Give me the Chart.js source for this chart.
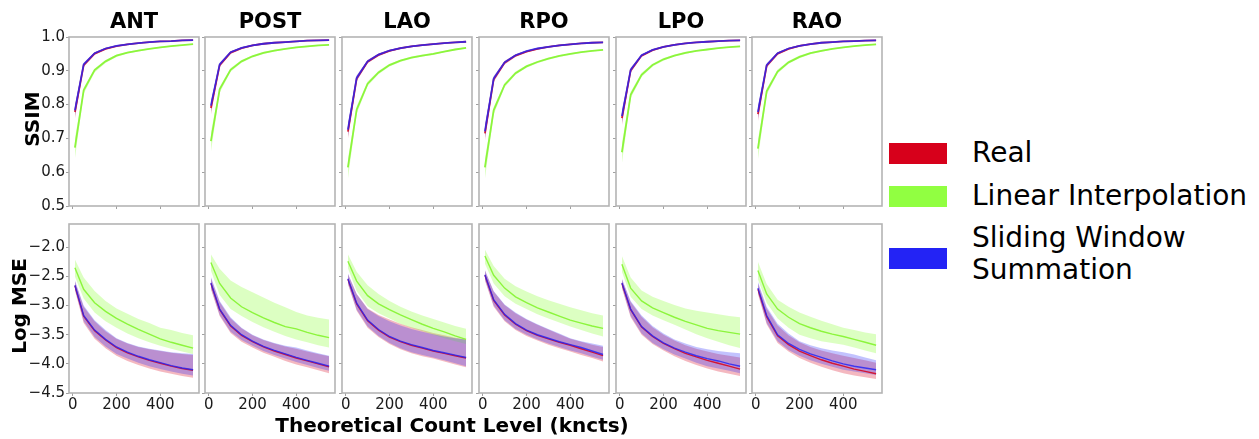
<!DOCTYPE html>
<html>
<head>
<meta charset="utf-8">
<script src="https://cdn.jsdelivr.net/npm/chart.js@4"></script>
<style>
  html, body { margin: 0; padding: 0; background: #fff; }
  #fig { position: relative; width: 1259px; height: 439px; overflow: hidden; font-family: 'DejaVu Sans', sans-serif; color: #000; }
  canvas { position: absolute; }
  .title { position: absolute; height: 28px; line-height: 28px; text-align: center; font-weight: bold; font-size: 21px; }
  .ylab { position: absolute; font-weight: bold; font-size: 20px; line-height: 20px; white-space: nowrap; transform: translate(-50%, -50%) rotate(-90deg); }
  .xlab { position: absolute; font-weight: bold; font-size: 20px; line-height: 24px; white-space: nowrap; transform: translateX(-50%); }
  .lpatch { position: absolute; left: 889px; width: 58px; height: 21px; }
  .ltext { position: absolute; left: 972px; font-size: 28px; line-height: 28px; white-space: nowrap; }
</style>
</head>
<body>
<div id="fig"></div>
<script>
// ---------------- data ----------------
const views = ['ANT', 'POST', 'LAO', 'RPO', 'LPO', 'RAO'];
const methods = ['Real', 'Linear Interpolation', 'Sliding Window\nSummation'];
const xValues = [10, 50, 100, 150, 200, 250, 300, 350, 400, 450, 500, 550];
const xTicks = [0, 200, 400];
const ssimTicks = [0.5, 0.6, 0.7, 0.8, 0.9, 1.0];
const mseTicks = [-4.5, -4.0, -3.5, -3.0, -2.5, -2.0];

// SSIM — rows follow `views`
const ssimRealMean = [
  [0.778, 0.917, 0.951, 0.965, 0.973, 0.978, 0.982, 0.985, 0.987, 0.988, 0.990, 0.991],
  [0.790, 0.917, 0.954, 0.967, 0.975, 0.980, 0.983, 0.985, 0.987, 0.989, 0.990, 0.991],
  [0.720, 0.877, 0.927, 0.947, 0.959, 0.967, 0.972, 0.976, 0.979, 0.982, 0.984, 0.986],
  [0.715, 0.875, 0.924, 0.945, 0.957, 0.965, 0.971, 0.975, 0.978, 0.981, 0.983, 0.984],
  [0.760, 0.901, 0.945, 0.961, 0.971, 0.977, 0.981, 0.984, 0.986, 0.988, 0.989, 0.990],
  [0.772, 0.915, 0.951, 0.965, 0.974, 0.979, 0.983, 0.985, 0.987, 0.988, 0.989, 0.990]
];
const ssimRealLo = [
  [0.758, 0.911, 0.947, 0.962, 0.971, 0.976, 0.981, 0.984, 0.986, 0.987, 0.989, 0.990],
  [0.770, 0.911, 0.950, 0.964, 0.973, 0.978, 0.982, 0.984, 0.986, 0.988, 0.989, 0.990],
  [0.698, 0.869, 0.922, 0.943, 0.956, 0.964, 0.970, 0.974, 0.977, 0.981, 0.983, 0.985],
  [0.693, 0.867, 0.919, 0.941, 0.954, 0.962, 0.969, 0.973, 0.976, 0.980, 0.982, 0.983],
  [0.738, 0.894, 0.941, 0.958, 0.969, 0.975, 0.980, 0.983, 0.985, 0.987, 0.988, 0.989],
  [0.750, 0.909, 0.947, 0.962, 0.972, 0.977, 0.982, 0.984, 0.986, 0.987, 0.988, 0.989]
];
const ssimRealHi = [
  [0.796, 0.923, 0.955, 0.968, 0.975, 0.980, 0.983, 0.986, 0.988, 0.989, 0.991, 0.992],
  [0.808, 0.923, 0.958, 0.970, 0.977, 0.982, 0.984, 0.986, 0.988, 0.990, 0.991, 0.992],
  [0.740, 0.885, 0.932, 0.951, 0.962, 0.969, 0.974, 0.978, 0.981, 0.983, 0.985, 0.987],
  [0.736, 0.883, 0.929, 0.949, 0.960, 0.968, 0.973, 0.977, 0.980, 0.982, 0.984, 0.985],
  [0.780, 0.908, 0.949, 0.964, 0.973, 0.979, 0.982, 0.985, 0.987, 0.989, 0.990, 0.991],
  [0.792, 0.921, 0.955, 0.968, 0.976, 0.981, 0.984, 0.986, 0.988, 0.989, 0.990, 0.991]
];
const ssimLinMean = [
  [0.673, 0.842, 0.902, 0.928, 0.945, 0.954, 0.960, 0.965, 0.969, 0.973, 0.976, 0.979],
  [0.692, 0.845, 0.903, 0.928, 0.943, 0.953, 0.960, 0.965, 0.969, 0.972, 0.975, 0.977],
  [0.614, 0.785, 0.862, 0.895, 0.917, 0.930, 0.939, 0.945, 0.950, 0.957, 0.963, 0.968],
  [0.614, 0.783, 0.858, 0.893, 0.913, 0.926, 0.936, 0.944, 0.950, 0.955, 0.959, 0.962],
  [0.659, 0.829, 0.888, 0.917, 0.934, 0.945, 0.953, 0.959, 0.963, 0.967, 0.970, 0.972],
  [0.670, 0.839, 0.898, 0.925, 0.941, 0.952, 0.959, 0.965, 0.969, 0.973, 0.976, 0.978]
];
const ssimLinLo = [
  [0.640, 0.832, 0.895, 0.923, 0.941, 0.951, 0.957, 0.963, 0.967, 0.971, 0.974, 0.977],
  [0.660, 0.835, 0.897, 0.924, 0.939, 0.950, 0.957, 0.962, 0.967, 0.970, 0.973, 0.975],
  [0.580, 0.773, 0.855, 0.890, 0.913, 0.926, 0.936, 0.942, 0.947, 0.955, 0.961, 0.966],
  [0.580, 0.771, 0.851, 0.888, 0.909, 0.922, 0.933, 0.941, 0.947, 0.953, 0.957, 0.960],
  [0.626, 0.819, 0.882, 0.913, 0.930, 0.942, 0.950, 0.957, 0.961, 0.965, 0.968, 0.970],
  [0.637, 0.829, 0.892, 0.921, 0.937, 0.949, 0.956, 0.963, 0.967, 0.971, 0.974, 0.976]
];
const ssimLinHi = [
  [0.700, 0.850, 0.907, 0.932, 0.948, 0.956, 0.962, 0.967, 0.971, 0.975, 0.978, 0.980],
  [0.718, 0.853, 0.908, 0.932, 0.946, 0.956, 0.962, 0.967, 0.971, 0.974, 0.976, 0.978],
  [0.640, 0.795, 0.868, 0.900, 0.921, 0.933, 0.942, 0.948, 0.953, 0.959, 0.965, 0.970],
  [0.640, 0.793, 0.864, 0.898, 0.917, 0.929, 0.939, 0.946, 0.952, 0.957, 0.961, 0.964],
  [0.686, 0.838, 0.894, 0.921, 0.938, 0.948, 0.956, 0.961, 0.965, 0.969, 0.972, 0.974],
  [0.696, 0.848, 0.904, 0.929, 0.945, 0.955, 0.962, 0.967, 0.971, 0.975, 0.978, 0.980]
];
const ssimSwsMean = [
  [0.783, 0.919, 0.952, 0.966, 0.974, 0.978, 0.982, 0.985, 0.987, 0.988, 0.990, 0.991],
  [0.797, 0.919, 0.955, 0.968, 0.975, 0.980, 0.983, 0.985, 0.987, 0.989, 0.990, 0.991],
  [0.726, 0.879, 0.928, 0.948, 0.960, 0.967, 0.972, 0.976, 0.979, 0.982, 0.984, 0.986],
  [0.721, 0.877, 0.925, 0.946, 0.958, 0.966, 0.971, 0.975, 0.978, 0.981, 0.983, 0.984],
  [0.766, 0.903, 0.946, 0.962, 0.971, 0.977, 0.981, 0.984, 0.986, 0.988, 0.989, 0.990],
  [0.778, 0.917, 0.952, 0.966, 0.974, 0.979, 0.983, 0.985, 0.987, 0.988, 0.989, 0.990]
];
const ssimSwsLo = [
  [0.765, 0.913, 0.948, 0.963, 0.972, 0.976, 0.981, 0.984, 0.986, 0.987, 0.989, 0.990],
  [0.778, 0.913, 0.951, 0.965, 0.973, 0.978, 0.982, 0.984, 0.986, 0.988, 0.989, 0.990],
  [0.705, 0.871, 0.923, 0.944, 0.957, 0.964, 0.970, 0.974, 0.977, 0.981, 0.983, 0.985],
  [0.700, 0.869, 0.920, 0.942, 0.955, 0.963, 0.969, 0.973, 0.976, 0.980, 0.982, 0.983],
  [0.745, 0.896, 0.942, 0.959, 0.969, 0.975, 0.980, 0.983, 0.985, 0.987, 0.988, 0.989],
  [0.758, 0.911, 0.948, 0.963, 0.972, 0.977, 0.982, 0.984, 0.986, 0.987, 0.988, 0.989]
];
const ssimSwsHi = [
  [0.798, 0.924, 0.955, 0.968, 0.976, 0.980, 0.983, 0.986, 0.988, 0.989, 0.991, 0.992],
  [0.812, 0.924, 0.958, 0.970, 0.977, 0.982, 0.984, 0.986, 0.988, 0.990, 0.991, 0.992],
  [0.744, 0.886, 0.932, 0.951, 0.962, 0.969, 0.974, 0.978, 0.981, 0.983, 0.985, 0.987],
  [0.740, 0.884, 0.929, 0.949, 0.960, 0.968, 0.973, 0.977, 0.980, 0.982, 0.984, 0.985],
  [0.784, 0.909, 0.949, 0.964, 0.973, 0.979, 0.982, 0.985, 0.987, 0.989, 0.990, 0.991],
  [0.795, 0.922, 0.955, 0.968, 0.976, 0.981, 0.984, 0.986, 0.988, 0.989, 0.990, 0.991]
];

// Log MSE — rows follow `views`
const mseRealMean = [
  [-2.66, -3.18, -3.43, -3.59, -3.72, -3.81, -3.88, -3.94, -3.99, -4.04, -4.08, -4.11],
  [-2.62, -3.07, -3.35, -3.51, -3.62, -3.71, -3.78, -3.84, -3.90, -3.95, -4.00, -4.05],
  [-2.55, -2.97, -3.26, -3.42, -3.54, -3.62, -3.68, -3.73, -3.78, -3.82, -3.86, -3.90],
  [-2.48, -2.91, -3.16, -3.32, -3.43, -3.51, -3.57, -3.63, -3.68, -3.74, -3.80, -3.86],
  [-2.62, -3.07, -3.37, -3.53, -3.65, -3.74, -3.82, -3.88, -3.94, -3.99, -4.04, -4.09],
  [-2.72, -3.19, -3.52, -3.67, -3.78, -3.86, -3.93, -3.99, -4.04, -4.09, -4.13, -4.17]
];
const mseRealLo = [
  [-2.74, -3.30, -3.57, -3.73, -3.86, -3.95, -4.02, -4.08, -4.13, -4.17, -4.21, -4.24],
  [-2.72, -3.18, -3.47, -3.62, -3.72, -3.81, -3.88, -3.95, -4.01, -4.06, -4.11, -4.16],
  [-2.63, -3.09, -3.38, -3.54, -3.66, -3.75, -3.82, -3.87, -3.91, -3.96, -4.01, -4.06],
  [-2.57, -3.02, -3.27, -3.42, -3.52, -3.60, -3.67, -3.73, -3.79, -3.85, -3.90, -3.96],
  [-2.70, -3.20, -3.50, -3.66, -3.77, -3.87, -3.95, -4.02, -4.08, -4.13, -4.17, -4.21],
  [-2.80, -3.32, -3.64, -3.79, -3.90, -3.98, -4.05, -4.11, -4.16, -4.20, -4.23, -4.26]
];
const mseRealHi = [
  [-2.58, -3.02, -3.27, -3.44, -3.57, -3.65, -3.71, -3.75, -3.78, -3.81, -3.83, -3.85],
  [-2.53, -2.94, -3.22, -3.39, -3.51, -3.59, -3.65, -3.70, -3.74, -3.79, -3.83, -3.87],
  [-2.46, -2.80, -3.05, -3.16, -3.24, -3.31, -3.37, -3.42, -3.47, -3.51, -3.55, -3.58],
  [-2.40, -2.76, -2.99, -3.13, -3.24, -3.33, -3.41, -3.49, -3.57, -3.62, -3.67, -3.71],
  [-2.55, -2.94, -3.19, -3.37, -3.50, -3.60, -3.68, -3.74, -3.79, -3.83, -3.86, -3.89],
  [-2.62, -3.05, -3.34, -3.51, -3.63, -3.71, -3.77, -3.82, -3.86, -3.90, -3.94, -3.98]
];
const mseLinMean = [
  [-2.35, -2.72, -2.95, -3.10, -3.22, -3.32, -3.41, -3.49, -3.57, -3.63, -3.68, -3.73],
  [-2.26, -2.62, -2.87, -3.02, -3.12, -3.21, -3.29, -3.36, -3.40, -3.46, -3.51, -3.55],
  [-2.24, -2.58, -2.83, -2.97, -3.07, -3.16, -3.24, -3.32, -3.39, -3.45, -3.52, -3.58],
  [-2.15, -2.48, -2.70, -2.85, -2.95, -3.04, -3.11, -3.18, -3.25, -3.30, -3.35, -3.39],
  [-2.29, -2.70, -2.92, -3.04, -3.12, -3.20, -3.27, -3.33, -3.39, -3.43, -3.46, -3.49],
  [-2.40, -2.80, -3.06, -3.20, -3.31, -3.38, -3.44, -3.49, -3.53, -3.58, -3.63, -3.68]
];
const mseLinLo = [
  [-2.50, -2.88, -3.12, -3.27, -3.38, -3.48, -3.56, -3.63, -3.69, -3.74, -3.79, -3.83],
  [-2.40, -2.82, -3.06, -3.18, -3.28, -3.37, -3.45, -3.52, -3.58, -3.63, -3.68, -3.72],
  [-2.36, -2.75, -3.01, -3.13, -3.22, -3.31, -3.38, -3.44, -3.50, -3.56, -3.61, -3.66],
  [-2.28, -2.62, -2.84, -2.97, -3.06, -3.15, -3.22, -3.29, -3.36, -3.42, -3.48, -3.53],
  [-2.42, -2.85, -3.06, -3.17, -3.25, -3.33, -3.41, -3.49, -3.56, -3.62, -3.68, -3.73],
  [-2.55, -2.95, -3.22, -3.38, -3.50, -3.56, -3.61, -3.64, -3.67, -3.72, -3.77, -3.82]
];
const mseLinHi = [
  [-2.21, -2.52, -2.75, -2.92, -3.05, -3.14, -3.23, -3.30, -3.38, -3.42, -3.47, -3.51],
  [-2.12, -2.37, -2.57, -2.68, -2.77, -2.86, -2.95, -3.03, -3.11, -3.17, -3.21, -3.24],
  [-2.12, -2.42, -2.65, -2.80, -2.92, -3.02, -3.10, -3.17, -3.23, -3.29, -3.35, -3.40],
  [-2.04, -2.32, -2.54, -2.67, -2.76, -2.84, -2.91, -2.97, -3.03, -3.08, -3.13, -3.17],
  [-2.15, -2.52, -2.74, -2.85, -2.92, -2.99, -3.05, -3.09, -3.12, -3.15, -3.18, -3.20],
  [-2.25, -2.63, -2.90, -3.02, -3.12, -3.19, -3.26, -3.32, -3.38, -3.42, -3.46, -3.49]
];
const mseSwsMean = [
  [-2.65, -3.17, -3.42, -3.58, -3.71, -3.80, -3.87, -3.93, -3.98, -4.03, -4.07, -4.10],
  [-2.61, -3.06, -3.34, -3.50, -3.61, -3.70, -3.77, -3.83, -3.89, -3.94, -3.99, -4.04],
  [-2.54, -2.96, -3.25, -3.41, -3.53, -3.61, -3.67, -3.72, -3.77, -3.81, -3.85, -3.89],
  [-2.47, -2.90, -3.15, -3.31, -3.42, -3.50, -3.56, -3.62, -3.67, -3.72, -3.78, -3.84],
  [-2.61, -3.06, -3.36, -3.52, -3.64, -3.73, -3.80, -3.86, -3.91, -3.95, -4.00, -4.04],
  [-2.70, -3.17, -3.50, -3.65, -3.75, -3.83, -3.89, -3.95, -4.00, -4.04, -4.07, -4.10]
];
const mseSwsLo = [
  [-2.72, -3.27, -3.54, -3.70, -3.83, -3.91, -3.98, -4.04, -4.09, -4.13, -4.17, -4.20],
  [-2.70, -3.16, -3.45, -3.59, -3.69, -3.78, -3.85, -3.91, -3.97, -4.02, -4.07, -4.12],
  [-2.62, -3.07, -3.36, -3.52, -3.64, -3.73, -3.80, -3.85, -3.89, -3.94, -3.99, -4.04],
  [-2.55, -3.00, -3.25, -3.40, -3.50, -3.58, -3.65, -3.71, -3.77, -3.82, -3.88, -3.93],
  [-2.68, -3.18, -3.48, -3.64, -3.75, -3.84, -3.91, -3.98, -4.04, -4.08, -4.12, -4.16],
  [-2.78, -3.30, -3.61, -3.76, -3.86, -3.94, -4.00, -4.05, -4.10, -4.13, -4.16, -4.19]
];
const mseSwsHi = [
  [-2.57, -3.00, -3.25, -3.42, -3.56, -3.64, -3.70, -3.74, -3.77, -3.80, -3.82, -3.83],
  [-2.51, -2.92, -3.20, -3.38, -3.50, -3.58, -3.64, -3.69, -3.72, -3.77, -3.82, -3.86],
  [-2.45, -2.80, -3.06, -3.18, -3.27, -3.34, -3.40, -3.45, -3.49, -3.53, -3.56, -3.58],
  [-2.39, -2.75, -2.98, -3.12, -3.23, -3.32, -3.40, -3.48, -3.56, -3.61, -3.65, -3.69],
  [-2.54, -2.92, -3.17, -3.35, -3.48, -3.58, -3.65, -3.71, -3.75, -3.78, -3.80, -3.82],
  [-2.59, -3.02, -3.31, -3.48, -3.61, -3.68, -3.73, -3.77, -3.80, -3.84, -3.89, -3.94]
];

// ---------------- layout / style ----------------
const panelLefts = [69, 205, 342, 479, 616, 752];
const panelTops = [31, 218];
const PW = 130, PH = 175;
const PAD_L = 50, PAD_R = 4, PAD_T = 4, PAD_B = 26;

const lineColors = ['rgba(215,0,25,0.85)', 'rgb(140,245,60)', 'rgba(35,35,245,0.82)'];
const bandColors = ['rgba(215,0,27,0.28)', 'rgba(145,255,65,0.32)', 'rgba(35,35,250,0.28)'];
const patchColors = ['#d7001b', '#91ff41', '#2323f5'];

Chart.defaults.font.family = "'DejaVu Sans', sans-serif";

const fig = document.getElementById('fig');

const framePlugin = {
  id: 'frame',
  afterDraw(chart) {
    const a = chart.chartArea, ctx = chart.ctx;
    ctx.save();
    ctx.strokeStyle = '#b4b4b4';
    ctx.lineWidth = 1.6;
    ctx.strokeRect(a.left, a.top, a.right - a.left, a.bottom - a.top);
    ctx.restore();
  }
};

function pts(arr) { return xValues.map((x, i) => ({ x: x, y: arr[i] })); }

function fmt(v) { return (v < 0 ? '\u2212' : '') + Math.abs(v).toFixed(1); }

function makePanel(row, col) {
  const v = col;
  const isSsim = row === 0;
  const groups = isSsim
    ? [[ssimRealMean, ssimRealLo, ssimRealHi], [ssimLinMean, ssimLinLo, ssimLinHi], [ssimSwsMean, ssimSwsLo, ssimSwsHi]]
    : [[mseRealMean, mseRealLo, mseRealHi], [mseLinMean, mseLinLo, mseLinHi], [mseSwsMean, mseSwsLo, mseSwsHi]];
  const datasets = [];
  groups.forEach((g, m) => {
    const loIdx = datasets.length;
    datasets.push({ data: pts(g[1][v]), borderWidth: 0, pointRadius: 0, fill: false, order: 10, borderColor: 'rgba(0,0,0,0)' });
    datasets.push({ data: pts(g[2][v]), borderWidth: 0, pointRadius: 0, fill: loIdx, backgroundColor: bandColors[m], borderColor: 'rgba(0,0,0,0)', order: 5 - m });
    datasets.push({ data: pts(g[0][v]), borderWidth: isSsim ? 1.8 : 1.4, pointRadius: 0, fill: false, borderColor: lineColors[m], order: 2 - m });
  });

  const canvas = document.createElement('canvas');
  const cw = PW + PAD_L + PAD_R, ch = PH + PAD_T + PAD_B;
  canvas.width = cw; canvas.height = ch;
  canvas.style.width = cw + 'px'; canvas.style.height = ch + 'px';
  canvas.style.left = (panelLefts[col] - PAD_L) + 'px';
  canvas.style.top = (panelTops[row] - PAD_T) + 'px';
  fig.appendChild(canvas);

  const yTicks = isSsim ? ssimTicks : mseTicks;
  new Chart(canvas, {
    type: 'line',
    data: { datasets },
    plugins: [framePlugin],
    options: {
      responsive: false,
      animation: false,
      events: [],
      layout: { autoPadding: false, padding: { left: 0, right: PAD_R, top: PAD_T, bottom: 0 } },
      plugins: { legend: { display: false }, tooltip: { enabled: false } },
      elements: { line: { tension: 0 } },
      scales: {
        x: {
          type: 'linear', min: -17, max: 577,
          afterBuildTicks: s => { s.ticks = xTicks.map(t => ({ value: t })); },
          afterFit: s => { s.height = PAD_B; },
          border: { display: false },
          grid: { drawOnChartArea: false, drawTicks: true, tickLength: 3, color: '#a0a0a0' },
          ticks: { color: row === 1 ? '#1a1a1a' : 'rgba(0,0,0,0)', font: { size: 15 }, padding: 0, maxRotation: 0, autoSkip: false,
                   callback: val => String(val) }
        },
        y: {
          type: 'linear',
          min: isSsim ? 0.5 : -4.5, max: isSsim ? 1.0 : -1.6,
          afterBuildTicks: s => { s.ticks = yTicks.map(t => ({ value: t })); },
          afterFit: s => { s.width = PAD_L; },
          border: { display: false },
          grid: { drawOnChartArea: false, drawTicks: true, tickLength: 3, color: '#a0a0a0' },
          ticks: { color: col === 0 ? '#1a1a1a' : 'rgba(0,0,0,0)', font: { size: 15 }, padding: 1, autoSkip: false,
                   callback: val => fmt(val) }
        }
      }
    }
  });
}

for (let r = 0; r < 2; r++) for (let c = 0; c < 6; c++) makePanel(r, c);

// titles
views.forEach((name, c) => {
  const d = document.createElement('div');
  d.className = 'title';
  d.textContent = name;
  d.style.left = panelLefts[c] + 'px';
  d.style.width = PW + 'px';
  d.style.top = '7px';
  fig.appendChild(d);
});

// axis labels
function addYLabel(text, cx, cy) {
  const d = document.createElement('div');
  d.className = 'ylab';
  d.textContent = text;
  d.style.left = cx + 'px';
  d.style.top = cy + 'px';
  fig.appendChild(d);
}
addYLabel('SSIM', 32, 119);
addYLabel('Log MSE', 19, 306);

const xl = document.createElement('div');
xl.className = 'xlab';
xl.textContent = 'Theoretical Count Level (kncts)';
xl.style.left = '452px';
xl.style.top = '413px';
fig.appendChild(xl);

// legend
const patchTops = [143, 186, 248];
const textTops = [139, 182, 223];
methods.forEach((m, i) => {
  const p = document.createElement('div');
  p.className = 'lpatch';
  p.style.top = patchTops[i] + 'px';
  p.style.background = patchColors[i];
  fig.appendChild(p);
  const t = document.createElement('div');
  t.className = 'ltext';
  t.style.top = textTops[i] + 'px';
  if (m.indexOf('\n') >= 0) { t.style.lineHeight = '32.4px'; t.style.top = '222px'; }
  t.innerHTML = m.split('\n').join('<br>');
  fig.appendChild(t);
});
</script>
</body>
</html>
